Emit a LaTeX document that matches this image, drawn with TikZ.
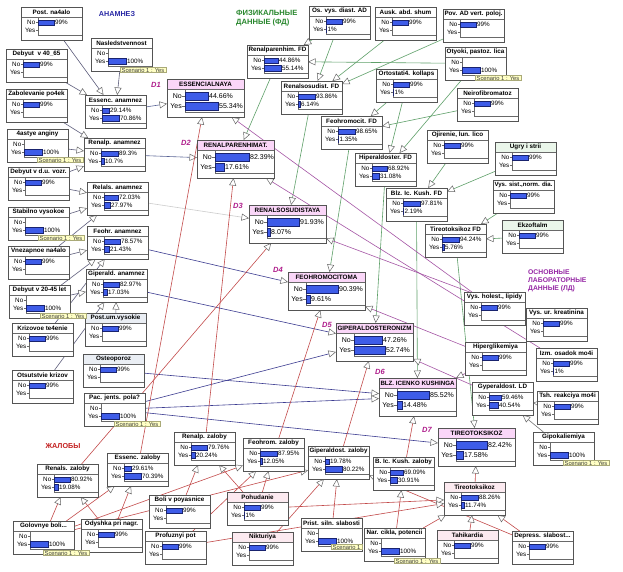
\documentclass[tikz,border=0pt]{standalone}
\usepackage{fontspec}
\setmainfont{Liberation Sans}
\usepackage{graphicx}
\usetikzlibrary{arrows.meta,backgrounds,calc}

\definecolor{barblue}{RGB}{62,92,232}
\definecolor{bardark}{RGB}{25,35,110}
\definecolor{boxline}{RGB}{105,105,105}
\definecolor{dxpink}{RGB}{250,214,248}
\definecolor{sxpink}{RGB}{252,234,240}
\definecolor{pgreen}{RGB}{234,246,234}
\definecolor{pgrey}{RGB}{234,238,244}
\definecolor{tagfill}{RGB}{255,255,196}
\definecolor{tagline}{RGB}{170,170,120}
\definecolor{cAE}{RGB}{95,95,125}
\definecolor{cAD}{RGB}{90,100,150}
\definecolor{cAN}{RGB}{60,60,145}
\definecolor{cAG}{RGB}{205,205,205}
\definecolor{cFD}{RGB}{95,160,105}
\definecolor{cLD}{RGB}{165,85,165}
\definecolor{cZL}{RGB}{195,75,75}
\definecolor{cLG}{RGB}{115,115,115}
\definecolor{hdBlue}{RGB}{40,40,165}
\definecolor{hdGreen}{RGB}{40,135,45}
\definecolor{hdPurple}{RGB}{150,40,165}
\definecolor{hdRed}{RGB}{195,30,30}
\definecolor{dlab}{RGB}{175,30,140}

\newsavebox\fitbox
\newcommand\fitto[2]{\sbox\fitbox{#2}\ifdim\wd\fitbox>#1\resizebox{#1}{!}{\usebox\fitbox}\else\usebox\fitbox\fi}

\tikzset{
  nbox/.style={rectangle, fill=white, inner sep=0pt, outer sep=0pt, anchor=north west},
  ttl/.style={inner sep=0pt, font=\bfseries\fontsize{6.3}{7}\selectfont},
  lbl/.style={inner sep=0pt, font=\fontsize{6.3}{7}\selectfont, anchor=east},
  pct/.style={inner sep=0pt, font=\fontsize{6.3}{7}\selectfont, anchor=west},
  blbl/.style={inner sep=0pt, font=\fontsize{7}{8}\selectfont, anchor=east},
  bpct/.style={inner sep=0pt, font=\fontsize{7}{8}\selectfont, anchor=west},
  barst/.style={fill=barblue, draw=bardark, line width=0.35pt},
  sepl/.style={draw=boxline, line width=0.45pt},
  brd/.style={draw=boxline!80!black, line width=0.9pt},
  tagst/.style={draw=tagline, fill=tagfill, line width=0.4pt, inner xsep=1.5pt, inner ysep=0.6pt, font=\fontsize{5.8}{6}\selectfont, text=black!75, anchor=north west},
  edge/.style={line width=0.6pt, -{Triangle[length=7.5pt,width=7pt,color=black!60,fill=white,line width=0.5pt]}},
  hdr/.style={inner sep=0pt, font=\bfseries\fontsize{7.2}{8.8}\selectfont},
  dl/.style={inner sep=0pt, text=dlab, font=\bfseries\itshape\fontsize{7.5}{8}\selectfont}
}

% bar: name, axis x, y centre, width, text, height, style
\newcommand\barrow[7]{%
  \if\relax\detokenize{#5}\relax\else
    \filldraw[barst] (#2,#3-#6/2) rectangle (#2+#4,#3+#6/2);
    \node[#7] (#1) at (#2+#4+1,#3) {#5};
  \fi}

% small node: name, x, y, title, title fill, no text, no width, yes text, yes width
\newcommand\bn[9]{%
  \node[nbox, minimum width=61pt, minimum height=33pt] (#1) at (#2,#3) {};
  \fill[#5] (#2,#3) rectangle (#2+61,#3+10);
  \draw[sepl] (#2,#3+10) -- (#2+61,#3+10);
  \draw[sepl] (#2+17,#3+10) -- (#2+17,#3+28) -- (#2+61,#3+28);
  \node[ttl] (#1-t) at (#2+30.5,#3+5.3) {\fitto{58pt}{#4}};
  \node[lbl] (#1-n) at (#2+14.5,#3+15.5) {No};
  \node[lbl] (#1-y) at (#2+14.5,#3+23) {Yes};
  \draw[sepl] (#2+14.8,#3+15.5) -- (#2+17,#3+15.5) (#2+14.8,#3+23) -- (#2+17,#3+23);
  \barrow{#1-np}{#2+17}{#3+15.5}{#7}{#6}{5.5}{pct}
  \barrow{#1-yp}{#2+17}{#3+23}{#9}{#8}{5.5}{pct}
  \draw[brd] (#2,#3) rectangle (#2+61,#3+33);
}

% diagnosis node: name, x, y, title, no text, no width, yes text, yes width
\newcommand\dn[8]{%
  \node[nbox, minimum width=77pt, minimum height=38pt] (#1) at (#2,#3) {};
  \fill[dxpink] (#2,#3) rectangle (#2+77,#3+10);
  \draw[sepl] (#2,#3+10) -- (#2+77,#3+10);
  \draw[sepl] (#2+18,#3+10) -- (#2+18,#3+33) -- (#2+77,#3+33);
  \node[ttl] (#1-t) at (#2+38.5,#3+5.3) {\fitto{74pt}{#4}};
  \node[blbl] (#1-n) at (#2+15,#3+17) {No};
  \node[blbl] (#1-y) at (#2+15,#3+27.5) {Yes};
  \draw[sepl] (#2+15.3,#3+17) -- (#2+18,#3+17) (#2+15.3,#3+27.5) -- (#2+18,#3+27.5);
  \barrow{#1-np}{#2+18}{#3+17}{#6}{#5}{8}{bpct}
  \barrow{#1-yp}{#2+18}{#3+27.5}{#8}{#7}{8}{bpct}
  \draw[brd] (#2,#3) rectangle (#2+77,#3+38);
}

\newcommand\tg[3]{\node[tagst] (#1) at (#2,#3) {Scenario 1 : Yes};}

\begin{document}
\begin{tikzpicture}[x=1pt,y=-1pt]
\useasboundingbox (0,0) rectangle (623,571);

% ---------- headers ----------
\node[hdr, text=hdBlue] (hAn) at (117,14) {АНАМНЕЗ};
\node[hdr, text=hdGreen, align=left, anchor=north west, font=\bfseries\fontsize{7.6}{9}\selectfont] (hFD) at (236,10) {ФИЗИКАЛЬНЫЕ\\ДАННЫЕ (ФД)};
\node[hdr, text=hdPurple, align=left, anchor=north west, font=\bfseries\fontsize{6.8}{7.8}\selectfont] (hLD) at (528,270) {ОСНОВНЫЕ\\ЛАБОРАТОРНЫЕ\\ДАННЫЕ (ЛД)};
\node[hdr, text=hdRed] (hZl) at (63,446) {ЖАЛОБЫ};

% ---------- D labels ----------
\node[dl] (D1) at (156,85) {D1};
\node[dl] (D2) at (186,143) {D2};
\node[dl] (D3) at (238,206) {D3};
\node[dl] (D4) at (278,270) {D4};
\node[dl] (D5) at (327,325) {D5};
\node[dl] (D6) at (380,372) {D6};
\node[dl] (D7) at (427,430) {D7};

% ---------- anamnez ----------
\bn{postnach}{21}{7}{Post. na4alo}{white}{99\%}{16}{}{0}
\bn{nasled}{91}{38}{Nasledstvennost}{white}{}{0}{100\%}{18}
\bn{deb4065}{6}{49}{Debyut\ \ v 40\_65}{white}{99\%}{16}{}{0}
\bn{zabol}{6}{89}{Zabolevanie po4ek}{white}{99\%}{16}{}{0}
\bn{esanam}{85}{95}{Essenc. anamnez}{white}{29.14\%}{7}{70.86\%}{17}
\bn{angin}{7}{129}{4astye anginy}{white}{}{0}{100\%}{18}
\bn{rpanam}{84}{138}{Renalp. anamnez}{white}{89.3\%}{17}{10.7\%}{3}
\bn{debdu}{8}{167}{Debyut v d.u. vozr.}{white}{99\%}{16}{}{0}
\bn{rsanam}{87}{182}{Relals. anamnez}{white}{72.03\%}{14}{27.97\%}{6}
\bn{stab}{8}{207}{Stabilno vysokoe}{white}{}{0}{100\%}{18}
\bn{feanam}{87}{226}{Feohr. anamnez}{white}{78.57\%}{16}{21.43\%}{5}
\bn{vnez}{8}{246}{Vnezapnoe na4alo}{white}{99\%}{16}{}{0}
\bn{gpanam}{86}{269}{Giperald. anamnez}{white}{82.97\%}{16}{17.03\%}{4}
\bn{deb2045}{9}{285}{Debyut v 20-45 let}{white}{}{0}{100\%}{18}
\bn{postum}{85}{313}{Post.um.vysokie}{pgrey}{99\%}{16}{}{0}
\bn{kriz}{12}{323}{Krizovoe te4enie}{white}{99\%}{16}{}{0}
\bn{osteo}{83}{354}{Osteoporoz}{pgrey}{99\%}{16}{}{0}
\bn{otsut}{12}{370}{Otsutstvie krizov}{white}{99\%}{16}{}{0}
\bn{pac}{84}{393}{Pac. jents. pola?}{white}{}{0}{100\%}{18}

% ---------- zaloby ----------
\bn{rszal}{37}{464}{Renals. zaloby}{white}{80.92\%}{16}{19.08\%}{4}
\bn{eszal}{107}{453}{Essenc. zaloby}{white}{29.61\%}{7}{70.39\%}{17}
\bn{golov}{13}{521}{Golovnye boli...}{white}{}{0}{100\%}{18}
\bn{odysh}{81}{519}{Odyshka pri nagr.}{white}{99\%}{16}{}{0}
\bn{boli}{149}{495}{Boli v poyasnice}{white}{99\%}{16}{}{0}
\bn{profuz}{145}{531}{Profuznyi pot}{white}{99\%}{16}{}{0}
\bn{rpzal}{174}{432}{Renalp. zaloby}{white}{79.76\%}{16}{20.24\%}{4}
\bn{fezal}{243}{438}{Feohrom. zaloby}{white}{87.95\%}{17}{12.05\%}{2}
\bn{gpzal}{308}{446}{Giperaldost. zaloby}{white}{19.78\%}{4}{80.22\%}{17}
\bn{bkzal}{373}{457}{B. Ic. Kush. zaloby}{white}{69.09\%}{13}{30.91\%}{7}
\bn{pohud}{227}{492}{Pohudanie}{sxpink}{99\%}{16}{1\%}{0.5}
\bn{niktur}{232}{532}{Nikturiya}{sxpink}{99\%}{16}{}{0}
\bn{prist}{301}{518}{Prist. siln. slabosti}{white}{}{0}{100\%}{18}
\node[tagst] (tg7) at (331,544) {Scenario 1};
\bn{narcik}{364}{528}{Nar. cikla, potencii}{white}{}{0}{100\%}{18}
\bn{tireo}{444}{482}{Tireotoksikoz}{sxpink}{88.26\%}{17}{11.74\%}{3}
\bn{tahik}{437}{530}{Tahikardia}{sxpink}{99\%}{16}{}{0}
\bn{depress}{512}{531}{Depress. slabost...}{white}{99\%}{16}{}{0}

% ---------- FD ----------
\bn{osvys}{309}{6}{Os. vys. diast. AD}{white}{99\%}{16}{1\%}{0.5}
\bn{ausk}{375}{7}{Ausk. abd. shum}{white}{99\%}{16}{}{0}
\bn{povad}{443}{9}{Pov. AD vert. poloj.}{white}{99\%}{16}{}{0}
\bn{otyoki}{445}{47}{Otyoki, pastoz. lica}{white}{}{0}{100\%}{18}
\bn{rpfd}{247}{45}{Renalparenhim. FD}{white}{44.86\%}{14}{55.14\%}{17}
\bn{rsfd}{281}{81}{Renalsosudist. FD}{white}{93.86\%}{17}{6.14\%}{2}
\bn{ortost}{376}{69}{Ortostati4. kollaps}{white}{99\%}{16}{1\%}{0.5}
\bn{neiro}{457}{88}{Neirofibromatoz}{white}{99\%}{16}{}{0}
\bn{fefd}{321}{116}{Feohromocit. FD}{white}{98.65\%}{17}{1.35\%}{0.5}
\bn{ojir}{427}{130}{Ojirenie, lun. lico}{white}{99\%}{16}{}{0}
\bn{ugry}{495}{142}{Ugry i strii}{pgreen}{99\%}{16}{}{0}
\bn{hafd}{355}{153}{Hiperaldoster. FD}{white}{68.92\%}{15}{31.08\%}{7}
\bn{bkfd}{386}{188}{Blz. Ic. Kush. FD}{white}{97.81\%}{17}{2.19\%}{0.5}
\bn{vyssist}{493}{180}{Vys. sist.,norm. dia.}{white}{99\%}{16}{}{0}
\bn{ttfd}{425}{224}{Tireotoksikoz FD}{white}{94.24\%}{17}{5.76\%}{2}
\bn{ekzof}{502}{220}{Ekzoftalm}{pgreen}{99\%}{16}{}{0}

% ---------- LD ----------
\bn{holest}{464}{292}{Vys. holest., lipidy}{white}{99\%}{16}{}{0}
\bn{kreat}{526}{308}{Vys. ur. kreatinina}{white}{99\%}{16}{}{0}
\bn{hipergl}{465}{342}{Hiperglikemiya}{white}{99\%}{16}{}{0}
\bn{izm}{536}{348}{Izm. osadok mo4i}{white}{99\%}{16}{1\%}{0.5}
\bn{gpld}{472}{382}{Gyperaldost. LD}{white}{59.46\%}{12}{40.54\%}{9}
\bn{tsh}{537}{391}{Tsh. reakciya mo4i}{white}{99\%}{16}{}{0}
\bn{gipok}{533}{432}{Gipokaliemiya}{white}{}{0}{100\%}{18}

% ---------- diagnoses ----------
\dn{ess}{167}{79}{ESSENCIALNAYA}{44.66\%}{23}{55.34\%}{33}
\dn{rp}{197}{140}{RENALPARENHIMAT.}{82.39\%}{34}{17.61\%}{9}
\dn{rs}{249}{205}{RENALSOSUDISTAYA}{91.93\%}{32}{8.07\%}{3}
\dn{fe}{288}{272}{FEOHROMOCITOMA}{90.39\%}{32}{9.61\%}{4}
\dn{gp}{336}{323}{GIPERALDOSTERONIZM}{47.26\%}{28}{52.74\%}{31}
\dn{bk}{379}{378}{BLZ. ICENKO KUSHINGA}{85.52\%}{32}{14.48\%}{5}
\dn{tt}{438}{428}{TIREOTOKSIKOZ}{82.42\%}{31}{17.58\%}{7}

% ---------- scenario tags ----------
\tg{tg1}{120}{67}
\tg{tg2}{37}{157}
\tg{tg3}{38}{235}
\tg{tg4}{40}{313}
\tg{tg5}{114}{421}
\tg{tg6}{43}{550}
\tg{tg8}{394}{558}
\tg{tg9}{475}{75}
\tg{tg10}{563}{460}

% ---------- connectors ----------
\begin{pgfonlayer}{background}
\fill[white] (0,0) rectangle (623,571);
\foreach \a/\b in {postnach/esanam, nasled/esanam, deb4065/esanam, zabol/rpanam, angin/rpanam,
  debdu/rpanam, debdu/rsanam, stab/rsanam, vnez/rsanam, vnez/feanam, deb2045/feanam, kriz/feanam,
  deb2045/gpanam, otsut/gpanam, postum/gpanam}
  \draw[edge, draw=cAE] (\a) -- (\b);
\foreach \a/\b in {esanam/ess, rpanam/rp}
  \draw[edge, draw=cAD] (\a) -- (\b);
\draw[edge, draw=cAG] (rsanam) -- (rs);
\foreach \a/\b in {feanam/fe, gpanam/gp, osteo/bk, pac/gp, pac/bk, pac/tt}
  \draw[edge, draw=cAN] (\a) -- (\b);
\foreach \a/\b in {osvys/rpfd, osvys/rsfd, ausk/rsfd, povad/rsfd, otyoki/rpfd, otyoki/hafd,
  ortost/fefd, ortost/hafd, neiro/fefd, ojir/bkfd, ugry/bkfd, vyssist/ttfd, ekzof/ttfd,
  rpfd/rp, rsfd/rs, fefd/fe, hafd/gp, bkfd/bk, ttfd/tt}
  \draw[edge, draw=cFD] (\a) -- (\b);
\foreach \a/\b in {holest/ess, izm/rp, kreat/rs, hipergl/fe, hipergl/bk, gpld/gp}
  \draw[edge, draw=cLD] (\a) -- (\b);
\foreach \a/\b in {tsh/gpld, gipok/gpld}
  \draw[edge, draw=cLG] (\a) -- (\b);
\foreach \a/\b in {golov/rszal, golov/eszal, golov/fezal, golov/gpzal, odysh/rszal, odysh/eszal,
  boli/rpzal, pohud/rpzal, profuz/fezal, pohud/fezal, niktur/gpzal, prist/gpzal, depress/gpzal,
  narcik/bkzal, pohud/tireo, profuz/tireo, narcik/tireo, tahik/tireo, depress/tireo,
  rszal/rs, eszal/ess, rpzal/rp, fezal/fe, gpzal/gp, bkzal/bk, tireo/tt}
  \draw[edge, draw=cZL] (\a) -- (\b);
\end{pgfonlayer}
\end{tikzpicture}
\end{document}
